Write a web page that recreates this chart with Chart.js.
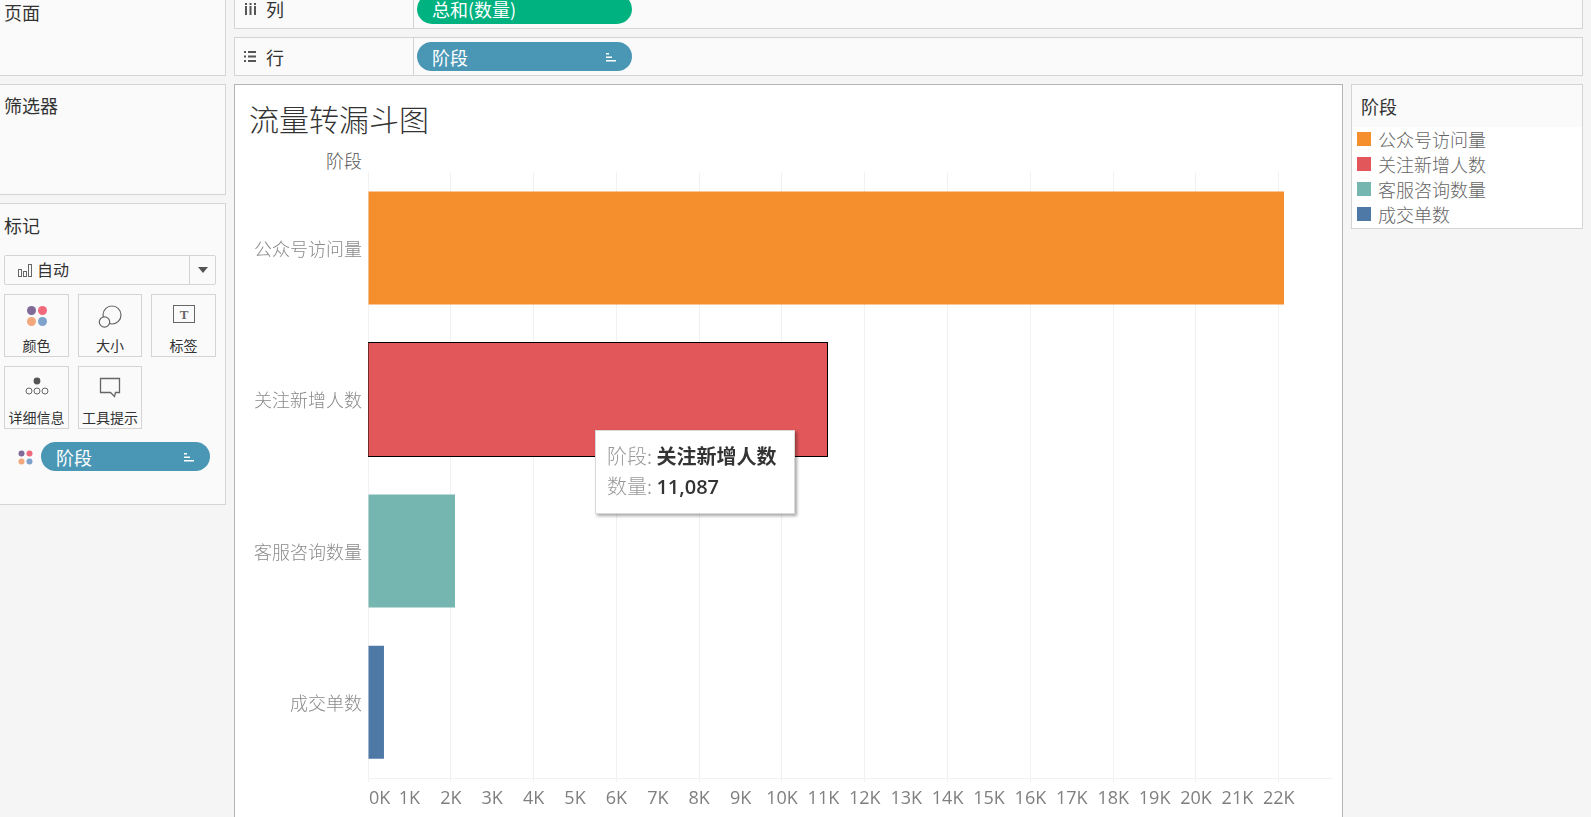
<!DOCTYPE html>
<html lang="zh">
<head>
<meta charset="utf-8">
<title>流量转漏斗图</title>
<script src="https://cdn.jsdelivr.net/npm/chart.js@4/dist/chart.umd.min.js"></script>
<style>
  html, body { margin: 0; width: 1591px; height: 817px; overflow: hidden; background: #f5f5f5; }
  body { position: relative; font-family: "Noto Sans CJK SC", sans-serif; color: #333; }
  .box { position: absolute; box-sizing: border-box; background: #fafafa; border: 1px solid #d4d4d4; }
  .txt { position: absolute; white-space: nowrap; line-height: 1; }
  .pill { position: absolute; box-sizing: border-box; color: #fff; font-size: 18px; border-radius: 15px; background: #4a96b5; }
  .pill span { position: absolute; left: 15px; top: 50%; transform: translateY(-50%); line-height: 1; }
  .pill svg { position: absolute; right: 16px; top: 50%; transform: translateY(-50%); }
  .card { position: absolute; box-sizing: border-box; background: #fafafa; border: 1px solid #d4d4d4; font-size: 14px; text-align: center; }
  .card svg { position: absolute; left: 50%; top: 10px; transform: translateX(-50%); }
  .card span { position: absolute; left: 0; right: 0; bottom: 2px; line-height: 1.2; }
  #viz { position: absolute; box-sizing: border-box; left: 234px; top: 84px; width: 1109px; height: 740px; background: #fff; border: 1px solid #b4b4b4; }
  #chart { position: absolute; left: 0; top: 0; }
  #legend-item-list .swatch { position: absolute; left: 1357px; width: 14px; height: 14px; }
  #legend-item-list .label { position: absolute; left: 1378px; font-size: 18px; line-height: 1; color: #666; font-weight: 300; white-space: nowrap; }
  #tip { position: absolute; display: none; box-sizing: border-box; left: 595px; top: 430px; width: 200px; height: 84px; background: #fff; border: 1px solid #d9d9d9; box-shadow: 2px 2px 3px rgba(0,0,0,.35); font-size: 20px; }
  #tip div { position: absolute; left: 11px; white-space: nowrap; line-height: 1; color: #999; font-weight: 300; }
  #tip b { color: #333; font-weight: 700; }
  #tip b.num { font-family: "Open Sans", sans-serif; font-size: 20px; font-weight: 600; }
</style>
</head>
<body>
  <!-- left shelves -->
  <div class="box" style="left:-2px;top:-2px;width:228px;height:78px"></div>
  <div class="txt" style="left:4px;top:3px;font-size:18px">页面</div>
  <div class="box" style="left:-2px;top:84px;width:228px;height:111px"></div>
  <div class="txt" style="left:4px;top:96px;font-size:18px">筛选器</div>
  <div class="box" style="left:-2px;top:203px;width:228px;height:302px"></div>
  <div class="txt" style="left:4px;top:216px;font-size:18px">标记</div>

  <div class="box" style="left:4px;top:255px;width:212px;height:30px;border-radius:2px;background:#fafafa"></div>
  <div class="box" style="left:189px;top:256px;width:1px;height:28px;border:0;background:#d4d4d4"></div>
  <svg style="position:absolute;left:18px;top:264px" width="14" height="13"><g fill="none" stroke="#666"><rect x="0.5" y="5.5" width="3" height="7"/><rect x="5.5" y="7.5" width="3" height="5"/><rect x="10.5" y="0.5" width="3" height="12"/></g></svg>
  <div class="txt" style="left:37px;top:261px;font-size:16px">自动</div>
  <svg style="position:absolute;left:197px;top:266px" width="12" height="8"><path d="M1 1h10L6 7z" fill="#555"/></svg>

  <div class="card" style="left:4px;top:294px;width:65px;height:63px">
    <svg width="22" height="22"><circle cx="5.5" cy="5.5" r="4.5" fill="#7f6a98"/><circle cx="16.5" cy="5.5" r="4.5" fill="#f2697b"/><circle cx="5.5" cy="16.5" r="4.5" fill="#f3a77c"/><circle cx="16.5" cy="16.5" r="4.5" fill="#7ea2cc"/></svg>
    <span>颜色</span>
  </div>
  <div class="card" style="left:78px;top:294px;width:64px;height:63px">
    <svg width="24" height="24"><g fill="none" stroke="#666" stroke-width="1.2"><circle cx="14" cy="10" r="9"/><circle cx="6.5" cy="17" r="5.2" fill="#fafafa"/></g></svg>
    <span>大小</span>
  </div>
  <div class="card" style="left:151px;top:294px;width:65px;height:63px">
    <svg width="22" height="20"><rect x="0.5" y="0.5" width="21" height="17" fill="none" stroke="#666"/><text x="11" y="14" font-family="Liberation Serif" font-size="13" font-weight="700" fill="#666" text-anchor="middle">T</text></svg>
    <span>标签</span>
  </div>
  <div class="card" style="left:4px;top:366px;width:65px;height:63px">
    <svg width="24" height="20"><g fill="none" stroke="#666"><circle cx="4" cy="14" r="3"/><circle cx="12" cy="14" r="3"/><circle cx="20" cy="14" r="3"/></g><circle cx="12" cy="4" r="3.4" fill="#555"/></svg>
    <span>详细信息</span>
  </div>
  <div class="card" style="left:78px;top:366px;width:64px;height:63px">
    <svg width="22" height="21"><path d="M1.5 1.5h19v14h-4l-1 4-4-4h-10z" fill="none" stroke="#666" stroke-width="1.3"/></svg>
    <span>工具提示</span>
  </div>

  <svg style="position:absolute;left:18px;top:450px" width="15" height="15"><circle cx="3.5" cy="3.5" r="3" fill="#7f6a98"/><circle cx="11.5" cy="3.5" r="3" fill="#f2697b"/><circle cx="3.5" cy="11.5" r="3" fill="#f3a77c"/><circle cx="11.5" cy="11.5" r="3" fill="#7ea2cc"/></svg>
  <div class="pill" style="left:41px;top:442px;width:169px;height:29px"><span>阶段</span>
    <svg width="10" height="10"><path d="M0 1h3v1.600H0zM0 4.500h6v1.600H0zM0 8h10v1.600H0z" fill="#fff"/></svg></div>

  <!-- column and row shelves -->
  <div class="box" style="left:234px;top:-2px;width:1349px;height:31px"></div>
  <div class="box" style="left:413px;top:0;width:1px;height:28px;border:0;background:#d4d4d4"></div>
  <svg style="position:absolute;left:245px;top:3px" width="11" height="12"><path d="M0 3h2v9H0zM0 0h2v2H0zM4.500 3h2v9h-2zM4.500 0h2v2h-2zM9 3h2v9H9zM9 0h2v2H9z" fill="#555"/></svg>
  <div class="txt" style="left:266px;top:0;font-size:18px">列</div>
  <div class="pill" style="left:417px;top:-6px;width:215px;height:30px;background:#00b280"><span>总和(数量)</span></div>

  <div class="box" style="left:234px;top:37px;width:1349px;height:39px"></div>
  <div class="box" style="left:413px;top:38px;width:1px;height:37px;border:0;background:#d4d4d4"></div>
  <svg style="position:absolute;left:244px;top:51px" width="12" height="11"><path d="M0 0h2v2H0zM4 0h8v2H4zM0 4.500h2v2H0zM4 4.500h8v2H4zM0 9h2v2H0zM4 9h8v2H4z" fill="#555"/></svg>
  <div class="txt" style="left:266px;top:48px;font-size:18px">行</div>
  <div class="pill" style="left:417px;top:42px;width:215px;height:29px"><span>阶段</span>
    <svg width="10" height="10"><path d="M0 1h3v1.600H0zM0 4.500h6v1.600H0zM0 8h10v1.600H0z" fill="#fff"/></svg></div>

  <!-- legend panel -->
  <div class="box" style="left:1351px;top:84px;width:232px;height:145px;background:#fff"></div>
  <div class="box" style="left:1352px;top:85px;width:230px;height:42px;border:0"></div>
  <div class="txt" style="left:1361px;top:97px;font-size:18px">阶段</div>
  <div id="legend-item-list"></div>

  <!-- chart panel -->
  <div id="viz"></div>
  <div class="txt" style="left:249px;top:103px;font-size:30px;font-weight:300;color:#333">流量转漏斗图</div>
  <div class="txt" style="left:326px;top:151px;font-size:18px;font-weight:300;color:#555">阶段</div>
  <canvas id="chart" width="1591" height="817"></canvas>
  <div id="tip"></div>

<script>
const stages = ['公众号访问量', '关注新增人数', '客服咨询数量', '成交单数']
const quantities = [22126, 11087, 2101, 386]
const stageColors = ['#f58e2c', '#e1575a', '#76b6b0', '#4e79a7']
const tickValues = [0, 1000, 2000, 3000, 4000, 5000, 6000, 7000, 8000, 9000, 10000, 11000,
  12000, 13000, 14000, 15000, 16000, 17000, 18000, 19000, 20000, 21000, 22000]
const tickLabels = ['0K', '1K', '2K', '3K', '4K', '5K', '6K', '7K', '8K', '9K', '10K', '11K',
  '12K', '13K', '14K', '15K', '16K', '17K', '18K', '19K', '20K', '21K', '22K']
const selectedStage = 1

const stageFont = { family: '"Noto Sans CJK SC", sans-serif', size: 18, weight: '300' }

// Builds the legend list from the same stage and colour arrays as the bars
function buildLegend () {
  const list = document.getElementById('legend-item-list')
  stages.forEach((stage, i) => {
    const top = 132 + i * 25
    list.insertAdjacentHTML('beforeend',
      `<div class="swatch" style="top:${top}px;background:${stageColors[i]}"></div>` +
      `<div class="label" style="top:${top - 2}px">${stage}</div>`)
  })
}

// HTML tooltip, because the two-tone text is not possible with the canvas one
function renderTip (context) {
  const tip = document.getElementById('tip')
  const model = context.tooltip
  if (model.opacity === 0 || !model.dataPoints) {
    tip.style.display = 'none'
    return
  }
  const point = model.dataPoints[0]
  tip.innerHTML =
    `<div style="top:15px">阶段: <b>${point.label}</b></div>` +
    `<div style="top:45px">数量: <b class="num">${point.raw.toLocaleString('en-US')}</b></div>`
  tip.style.display = 'block'
}

buildLegend()

const chart = new Chart(document.getElementById('chart'), {
  type: 'bar',
  data: {
    labels: stages,
    datasets: [{
      label: '数量',
      data: quantities,
      backgroundColor: stageColors,
      borderColor: stages.map((_s, i) => i === selectedStage ? '#000' : 'transparent'),
      borderWidth: stages.map((_s, i) => i === selectedStage ? 1 : 0),
      // the selection outline sits outside the bar, not inside
      inflateAmount: stages.map((_s, i) => i === selectedStage ? 1 : 0),
      borderSkipped: false,
      categoryPercentage: 1,
      barPercentage: 0.7464
    }]
  },
  options: {
    indexAxis: 'y',
    responsive: false,
    animation: false,
    devicePixelRatio: 1,
    layout: { autoPadding: false, padding: { top: 172.4, right: 260, left: 0, bottom: 0 } },
    plugins: {
      legend: { display: false },
      title: { display: false },
      tooltip: { enabled: false, external: renderTip }
    },
    scales: {
      x: {
        min: 0,
        max: 23261,
        afterFit: (scale) => { scale.height = 39 },
        // stepSize with a non-whole max gets stretched, so the ticks are set directly
        afterBuildTicks: (scale) => { scale.ticks = tickValues.map(value => ({ value })) },
        border: { color: '#f2f2f2' },
        grid: {
          // gridlines only every 2K, labels every 1K
          color: (ctx) => ctx.tick && ctx.tick.value % 2000 === 0 ? '#f1f1f1' : 'transparent',
          tickLength: 4
        },
        ticks: {
          autoSkip: false,
          maxRotation: 0,
          padding: 6,
          color: '#7f7f7f',
          font: { family: '"Open Sans", sans-serif', size: 18 },
          // leading spaces push 0K off the axis edge like the original
          callback: (_value, index) => index === 0
            ? '\u00a0\u00a0\u00a0\u00a0\u00a0' + tickLabels[index]
            : tickLabels[index]
        }
      },
      y: {
        afterFit: (scale) => { scale.width = 368 },
        border: { display: false },
        grid: { display: false, drawTicks: false },
        ticks: { color: '#8a8a8a', padding: 6, labelOffset: 1, font: stageFont }
      }
    }
  }
})

chart.tooltip.setActiveElements([{ datasetIndex: 0, index: selectedStage }], { x: 690, y: 470 })
chart.update()
</script>
</body>
</html>
